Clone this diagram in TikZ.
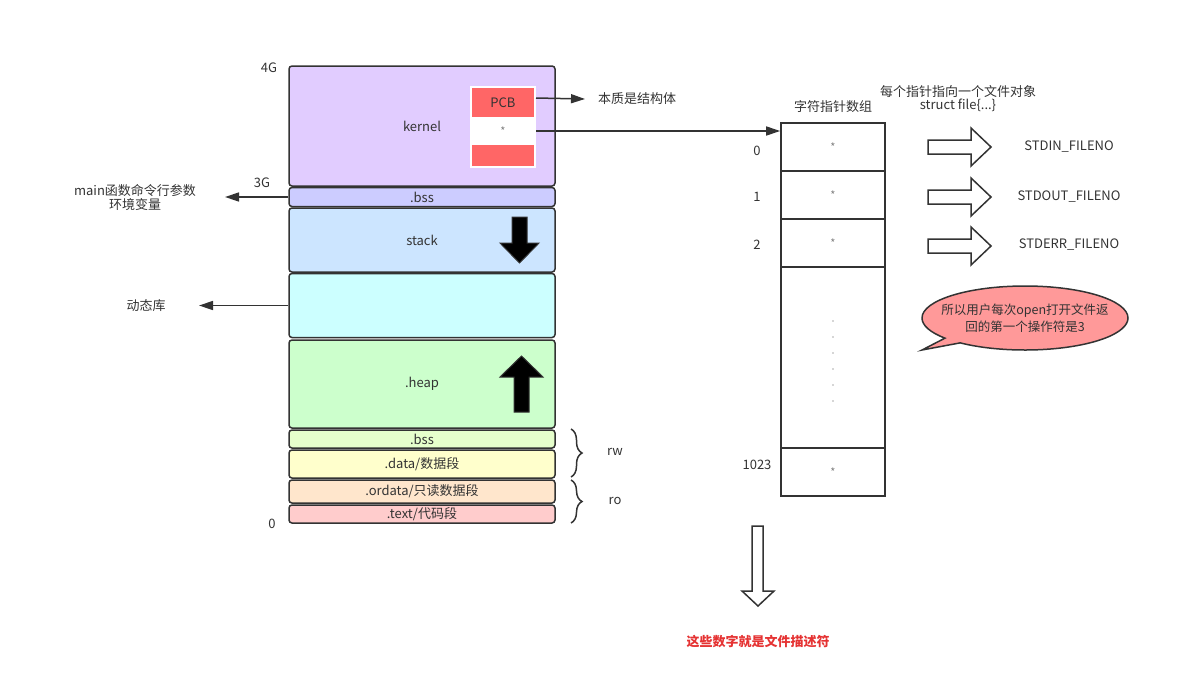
\documentclass[tikz,border=0pt]{standalone}
\usepackage{fontspec}
\setmainfont{Noto Sans CJK SC}
\usetikzlibrary{arrows.meta,shapes.callouts,decorations.pathreplacing,calc}
\definecolor{linec}{HTML}{333333}
\definecolor{txt}{HTML}{333333}
\definecolor{kernelc}{HTML}{E1CCFF}
\definecolor{bssa}{HTML}{CCCCFF}
\definecolor{stackc}{HTML}{CCE5FF}
\definecolor{dync}{HTML}{CCFFFF}
\definecolor{heapc}{HTML}{CCFFCC}
\definecolor{bssb}{HTML}{E6FFCC}
\definecolor{datac}{HTML}{FFFFCC}
\definecolor{ordatac}{HTML}{FFE6CC}
\definecolor{textc}{HTML}{FFCCCC}
\definecolor{pcbred}{HTML}{FF6666}
\definecolor{callc}{HTML}{FF9999}
\definecolor{redtxt}{HTML}{E53333}
\begin{document}
\begin{tikzpicture}[x=1pt,y=-1pt,
  every node/.style={font=\fontsize{13}{15}\selectfont, text=txt},
  mem/.style={draw=linec, line width=1.5pt, rounded corners=3pt, minimum width=266pt, inner sep=0pt},
  pcbbox/.style={draw=white, line width=2pt, minimum width=64pt, inner sep=0pt},
  cell/.style={draw=linec, line width=1.6pt, minimum width=104pt, inner sep=0pt, font=\fontsize{11}{12}\selectfont, text=gray},
  conn/.style={draw=linec, line width=1.5pt, -{Triangle[length=14pt,width=9pt]}},
  hollow/.style={draw=linec, line width=1.5pt, fill=white, line join=miter},
  solidarrow/.style={draw=linec, line width=1pt, fill=black, line join=miter},
  bracestyle/.style={draw=linec, line width=1.5pt, decorate, decoration={brace, amplitude=11pt}},
  lbl/.style={align=center}
]
\useasboundingbox (0,0) rectangle (1182,694);

% memory layout
\node[mem, fill=kernelc, minimum height=120pt] (kernel) at (422,126) {kernel};
\node[mem, fill=bssa, minimum height=19pt] (bss1) at (422,197) {.bss};
\node[mem, fill=stackc, minimum height=64pt] (stack) at (422,240) {stack};
\node[mem, fill=dync, minimum height=64pt] (dyn) at (422,305.5) {};
\node[mem, fill=heapc, minimum height=88pt] (heap) at (422,384) {.heap};
\node[mem, fill=bssb, minimum height=18pt] (bss2) at (422,439) {.bss};
\node[mem, fill=datac, minimum height=28pt] (data) at (422,464) {.data/数据段};
\node[mem, fill=ordatac, minimum height=23pt] (ordata) at (422,491.5) {.ordata/只读数据段};
\node[mem, fill=textc, minimum height=18pt] (textseg) at (422,514) {.text/代码段};

% PCB
\fill[white] (470,86) rectangle (536,168);
\node[pcbbox, fill=pcbred, minimum height=31pt] (pcbtop) at (503,102.5) {PCB};
\node[pcbbox, fill=white, minimum height=26pt, font=\fontsize{11}{12}\selectfont, text=gray] (pcbmid) at (503,131) {*};
\node[pcbbox, fill=pcbred, minimum height=23pt] (pcbbot) at (503,155.5) {};

% stack / heap arrows
\draw[solidarrow] (512,217) -- (527,217) -- (527,243) -- (539,243) -- (519.5,263) -- (500,243) -- (512,243) -- cycle;
\draw[solidarrow] (514,412) -- (529,412) -- (529,377) -- (543,377) -- (521.5,356) -- (500,377) -- (514,377) -- cycle;

% address labels
\node (g4) at (269,68) {4G};
\node (g3) at (262,183) {3G};
\node (g0) at (272,524) {0};

% left annotations
\node[lbl] (mainlbl) at (135,197.5) {main函数命令行参数\\[-1pt]环境变量};
\coordinate (mainarr) at (225,197);
\draw[conn] (bss1.west) -- (mainarr);
\node (dynlbl) at (146,306) {动态库};
\coordinate (dynarr) at (199,305.5);
\draw[conn] (dyn.west) -- (dynarr);

% braces
\draw[bracestyle] (571,429) -- (571,477);
\draw[bracestyle] (571,480) -- (571,523);
\node (rw) at (615,452) {rw};
\node (ro) at (615,501) {ro};

% PCB annotation
\node (pcblbl) at (637,99) {本质是结构体};
\coordinate (pcbtip) at (585,99);
\draw[conn] ($(pcbtop.north east)+(0,12)$) -- (pcbtip);

% array
\node (arrtitle) at (833,107) {字符指针数组};
\node[lbl] (filetitle) at (958,98.5) {每个指针指向一个文件对象\\[-2pt]struct file\{...\}};
\node[cell, minimum height=48pt] (c0) at (833,147) {*};
\node[cell, minimum height=48pt] (c1) at (833,195) {*};
\node[cell, minimum height=48pt] (c2) at (833,243) {*};
\node[cell, minimum height=181pt] (cd) at (833,357.5) {};
\node[cell, minimum height=48pt] (c1023) at (833,472) {*};
\foreach \i in {0,...,5} \fill[gray!60!black] (833,{321+16*\i}) circle (0.6pt);

\node (i0) at (757,151) {0};
\node (i1) at (757,197) {1};
\node (i2) at (757,245) {2};
\node (i1023) at (757,465) {1023};

\draw[conn] (pcbmid.east) -- (pcbmid.east -| c0.west);

% hollow arrows
\foreach \yy in {147,197,246} {
  \draw[hollow] (928,\yy-7) -- (971,\yy-7) -- (971,\yy-19) -- (991,\yy) -- (971,\yy+19) -- (971,\yy+7) -- (928,\yy+7) -- cycle;
}
\node (stdin) at (1069,147) {STDIN\_FILENO};
\node (stdout) at (1069,197) {STDOUT\_FILENO};
\node (stderr) at (1069,245) {STDERR\_FILENO};

% callout
\node[ellipse callout, draw=linec, line width=1.5pt, fill=callc, minimum width=206pt, minimum height=64pt, inner sep=0pt,
  callout absolute pointer={(922,350)}, callout pointer arc=12] (callout) at (1025,318) {};
\node[lbl, font=\fontsize{12.5}{17}\selectfont] (calltxt) at (callout.center) {所以用户每次open打开文件返\\回的第一个操作符是3};

% down arrow and conclusion
\draw[hollow] (752,526) -- (763,526) -- (763,591) -- (774,591) -- (758,606) -- (742,591) -- (752,591) -- cycle;
\node[font=\bfseries\fontsize{13}{15}\selectfont, text=redtxt] (concl) at (758,642) {这些数字就是文件描述符};
\end{tikzpicture}
\end{document}
